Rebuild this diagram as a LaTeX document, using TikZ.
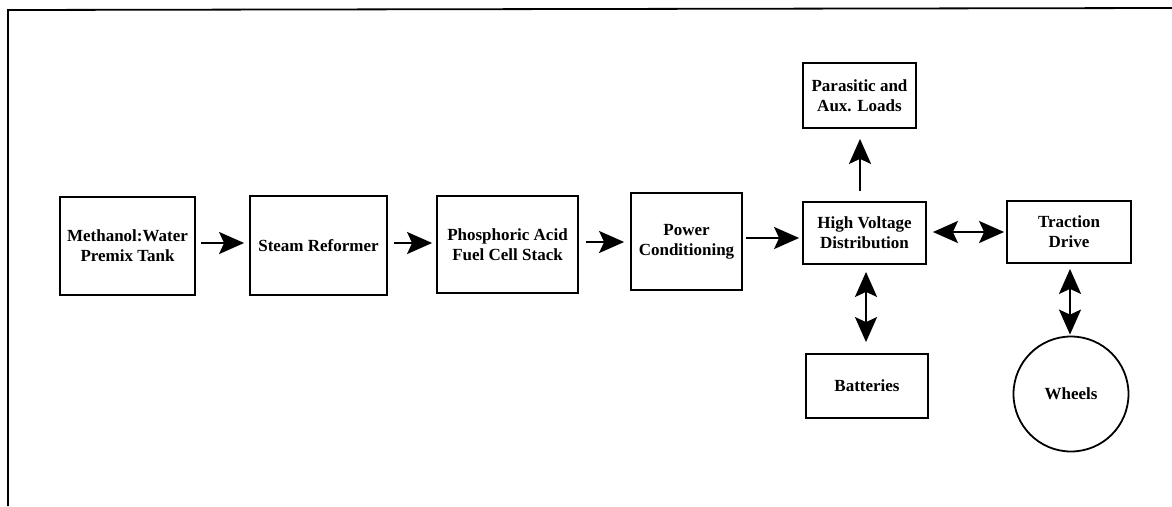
\documentclass[tikz,border=0pt]{standalone}
\usepackage{fontspec}
\setmainfont{Liberation Serif}
\usetikzlibrary{arrows.meta}
\begin{document}
\begin{tikzpicture}[x=1pt,y=-1pt,
  box/.style={draw,line width=1.8pt,rectangle,inner sep=0pt,align=center,
    font=\fontsize{17}{20}\selectfont\bfseries},
  wheel/.style={draw,line width=1.8pt,circle,inner sep=0pt,
    font=\fontsize{17}{20}\selectfont\bfseries},
  conn/.style={line width=2.2pt,-{Stealth[length=25pt,width=22pt,inset=5pt]}},
  bconn/.style={line width=2.2pt,{Stealth[length=25pt,width=22pt,inset=5pt]}-{Stealth[length=25pt,width=22pt,inset=5pt]}},
  frameline/.style={line width=1.8pt}
]
\useasboundingbox (0,0) rectangle (1172,506);
\coordinate (fa) at (8,506);
\coordinate (fb) at (8,10);
\coordinate (fc) at (1172,8);
\draw[frameline] (fa) -- (fb) -- (fc);

\node[box,minimum width=135pt,minimum height=98pt] (tank) at (127.5,246) {Methanol:Water\\Premix Tank};
\node[box,minimum width=137pt,minimum height=99pt] (ref) at (318.5,245.5) {Steam Reformer};
\node[box,minimum width=141pt,minimum height=97pt] (fcs) at (507.5,244.5) {Phosphoric Acid\\Fuel Cell Stack};
\node[box,minimum width=111pt,minimum height=97pt] (pc) at (686.5,241.5) {Power\\Conditioning};
\node[box,minimum width=123pt,minimum height=62pt] (hv) at (864.5,233) {High Voltage\\Distribution};
\node[box,minimum width=113pt,minimum height=65pt] (par) at (859.5,95.5) {Parasitic and\\Aux. Loads};
\node[box,minimum width=124pt,minimum height=62pt] (td) at (1069,232) {Traction\\Drive};
\node[box,minimum width=122pt,minimum height=64pt] (bat) at (867,386) {Batteries};
\node[wheel,minimum size=115pt] (wh) at (1071,394) {Wheels};

\draw[conn] ([xshift=5pt]tank.east |- 0,243) -- ([xshift=-5pt]ref.west |- 0,243);
\draw[conn] ([xshift=6pt]ref.east |- 0,243) -- ([xshift=-4pt]fcs.west |- 0,243);
\draw[conn] ([xshift=7pt]fcs.east |- 0,242) -- ([xshift=-6pt]pc.west |- 0,242);
\draw[conn] ([xshift=3pt]pc.east |- 0,238) -- ([xshift=-3pt]hv.west |- 0,238);
\draw[conn] ([yshift=10pt]hv.north -| 860,0) -- ([yshift=-10pt]par.south -| 860,0);
\draw[bconn] ([xshift=6pt]hv.east |- 0,232) -- ([xshift=-2pt]td.west |- 0,232);
\draw[bconn] ([yshift=-7pt]hv.south -| 866,0) -- ([yshift=11pt]bat.north -| 866,0);
\draw[bconn] ([yshift=-5pt]td.south -| 1070,0) -- ([yshift=1pt]wh.north -| 1070,0);
\end{tikzpicture}
\end{document}
